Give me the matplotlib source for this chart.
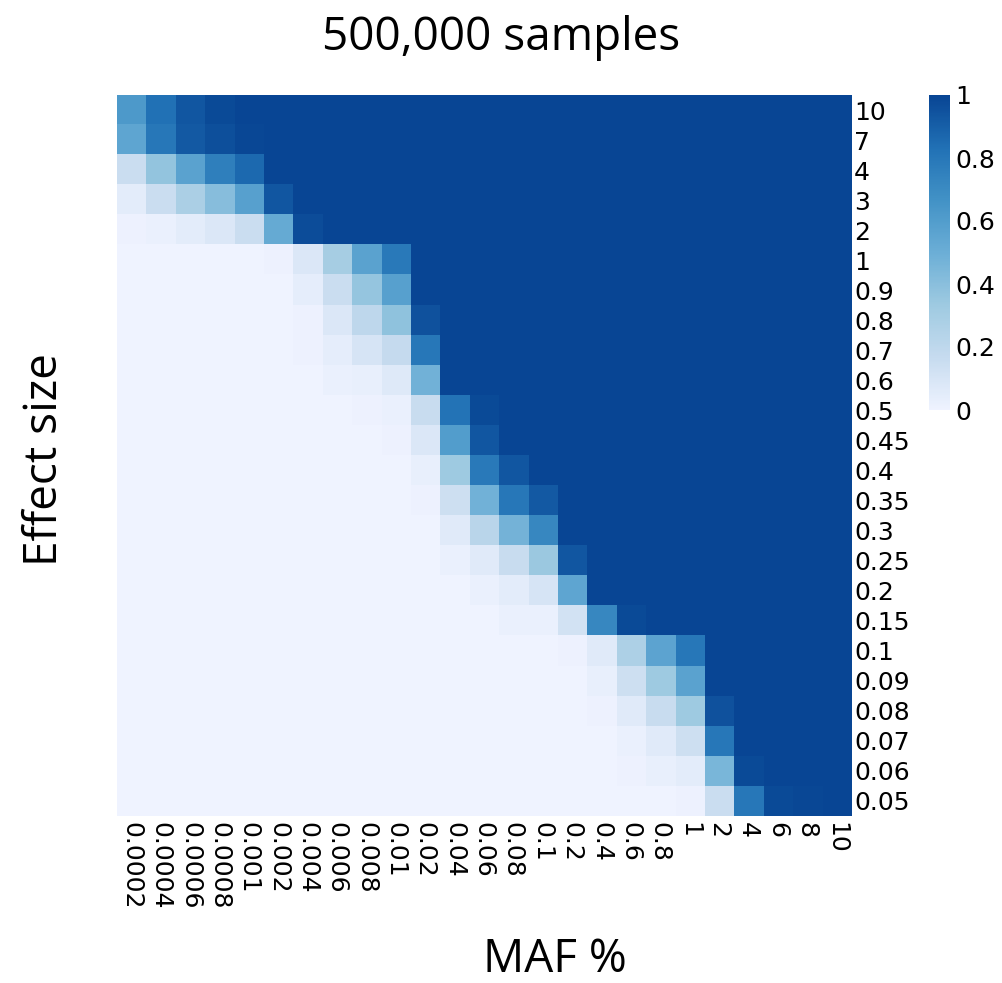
import numpy as np
import matplotlib
matplotlib.use("Agg")
import matplotlib.pyplot as plt
from matplotlib.colors import LinearSegmentedColormap

maf_pct = ["0.0002", "0.0004", "0.0006", "0.0008", "0.001", "0.002", "0.004",
           "0.006", "0.008", "0.01", "0.02", "0.04", "0.06", "0.08", "0.1",
           "0.2", "0.4", "0.6", "0.8", "1", "2", "4", "6", "8", "10"]
effect_sizes = ["10", "7", "4", "3", "2", "1", "0.9", "0.8", "0.7", "0.6", "0.5",
                "0.45", "0.4", "0.35", "0.3", "0.25", "0.2", "0.15", "0.1",
                "0.09", "0.08", "0.07", "0.06", "0.05"]

# power per effect size (rows) and MAF (columns)
power = [
    [.62, .83, .93, .98, 1, 1, 1, 1, 1, 1, 1, 1, 1, 1, 1, 1, 1, 1, 1, 1, 1, 1, 1, 1, 1],
    [.55, .80, .92, .96, .99, 1, 1, 1, 1, 1, 1, 1, 1, 1, 1, 1, 1, 1, 1, 1, 1, 1, 1, 1, 1],
    [.15, .37, .57, .76, .86, 1, 1, 1, 1, 1, 1, 1, 1, 1, 1, 1, 1, 1, 1, 1, 1, 1, 1, 1, 1],
    [.05, .15, .28, .41, .58, .93, 1, 1, 1, 1, 1, 1, 1, 1, 1, 1, 1, 1, 1, 1, 1, 1, 1, 1, 1],
    [.01, .02, .05, .08, .15, .52, .97, 1, 1, 1, 1, 1, 1, 1, 1, 1, 1, 1, 1, 1, 1, 1, 1, 1, 1],
    [0, 0, 0, 0, 0, .01, .08, .30, .57, .79, 1, 1, 1, 1, 1, 1, 1, 1, 1, 1, 1, 1, 1, 1, 1],
    [0, 0, 0, 0, 0, 0, .04, .15, .36, .58, 1, 1, 1, 1, 1, 1, 1, 1, 1, 1, 1, 1, 1, 1, 1],
    [0, 0, 0, 0, 0, 0, .01, .08, .20, .38, .95, 1, 1, 1, 1, 1, 1, 1, 1, 1, 1, 1, 1, 1, 1],
    [0, 0, 0, 0, 0, 0, .01, .04, .10, .17, .80, 1, 1, 1, 1, 1, 1, 1, 1, 1, 1, 1, 1, 1, 1],
    [0, 0, 0, 0, 0, 0, 0, .02, .03, .07, .48, 1, 1, 1, 1, 1, 1, 1, 1, 1, 1, 1, 1, 1, 1],
    [0, 0, 0, 0, 0, 0, 0, 0, .01, .02, .16, .82, .98, 1, 1, 1, 1, 1, 1, 1, 1, 1, 1, 1, 1],
    [0, 0, 0, 0, 0, 0, 0, 0, 0, .01, .08, .60, .93, 1, 1, 1, 1, 1, 1, 1, 1, 1, 1, 1, 1],
    [0, 0, 0, 0, 0, 0, 0, 0, 0, 0, .03, .33, .79, .93, 1, 1, 1, 1, 1, 1, 1, 1, 1, 1, 1],
    [0, 0, 0, 0, 0, 0, 0, 0, 0, 0, .01, .14, .48, .80, .92, 1, 1, 1, 1, 1, 1, 1, 1, 1, 1],
    [0, 0, 0, 0, 0, 0, 0, 0, 0, 0, 0, .06, .22, .47, .72, 1, 1, 1, 1, 1, 1, 1, 1, 1, 1],
    [0, 0, 0, 0, 0, 0, 0, 0, 0, 0, 0, .02, .06, .16, .34, .93, 1, 1, 1, 1, 1, 1, 1, 1, 1],
    [0, 0, 0, 0, 0, 0, 0, 0, 0, 0, 0, 0, .02, .05, .10, .55, 1, 1, 1, 1, 1, 1, 1, 1, 1],
    [0, 0, 0, 0, 0, 0, 0, 0, 0, 0, 0, 0, 0, .02, .02, .12, .72, .98, 1, 1, 1, 1, 1, 1, 1],
    [0, 0, 0, 0, 0, 0, 0, 0, 0, 0, 0, 0, 0, 0, 0, .01, .06, .27, .56, .80, 1, 1, 1, 1, 1],
    [0, 0, 0, 0, 0, 0, 0, 0, 0, 0, 0, 0, 0, 0, 0, 0, .03, .14, .33, .57, 1, 1, 1, 1, 1],
    [0, 0, 0, 0, 0, 0, 0, 0, 0, 0, 0, 0, 0, 0, 0, 0, .01, .06, .16, .33, .95, 1, 1, 1, 1],
    [0, 0, 0, 0, 0, 0, 0, 0, 0, 0, 0, 0, 0, 0, 0, 0, 0, .02, .06, .14, .80, 1, 1, 1, 1],
    [0, 0, 0, 0, 0, 0, 0, 0, 0, 0, 0, 0, 0, 0, 0, 0, 0, .01, .03, .05, .45, .98, 1, 1, 1],
    [0, 0, 0, 0, 0, 0, 0, 0, 0, 0, 0, 0, 0, 0, 0, 0, 0, 0, 0, .01, .15, .80, .98, .99, 1],
]
power = np.array(power)

blues = LinearSegmentedColormap.from_list(
    "blues7", ["#eff3ff", "#c6dbef", "#9ecae1", "#6baed6",
               "#4292c6", "#2171b5", "#084594"])

W, H = 1002, 983
fig = plt.figure(figsize=(W / 100, H / 100), dpi=100)

ax = fig.add_axes([116.5 / W, (H - 816) / H, 734 / W, 721 / H])
im = ax.imshow(power, cmap=blues, vmin=0, vmax=1, aspect="auto",
               interpolation="nearest")
for s in ax.spines.values():
    s.set_visible(False)

ax.set_xticks(np.arange(len(maf_pct)))
ax.set_xticklabels(maf_pct, rotation=-90, va="top", ha="center")
ax.set_yticks(np.arange(len(effect_sizes)))
ax.set_yticklabels(effect_sizes)
ax.yaxis.tick_right()
ax.tick_params(axis="both", length=0, labelsize=18)
ax.tick_params(axis="x", pad=4)
ax.tick_params(axis="y", pad=2.5)

cax = fig.add_axes([929 / W, (H - 410) / H, 21 / W, 315 / H])
cb = fig.colorbar(im, cax=cax, ticks=[0, 0.2, 0.4, 0.6, 0.8, 1])
cb.ax.set_yticklabels(["0", "0.2", "0.4", "0.6", "0.8", "1"])
cb.outline.set_visible(False)
cb.ax.tick_params(length=0, labelsize=18, pad=4)

lab = dict(family="Open Sans", fontsize=33)
fig.text(501 / W, 1 - 50 / H, "500,000 samples", ha="center", va="baseline", **lab)
fig.text(555 / W, 1 - 972 / H, "MAF %", ha="center", va="baseline", **lab)
fig.text(57 / W, 1 - 460 / H, "Effect size", rotation=90, rotation_mode="anchor",
         ha="center", va="baseline", **lab)

fig.savefig("out.png", dpi=100)
